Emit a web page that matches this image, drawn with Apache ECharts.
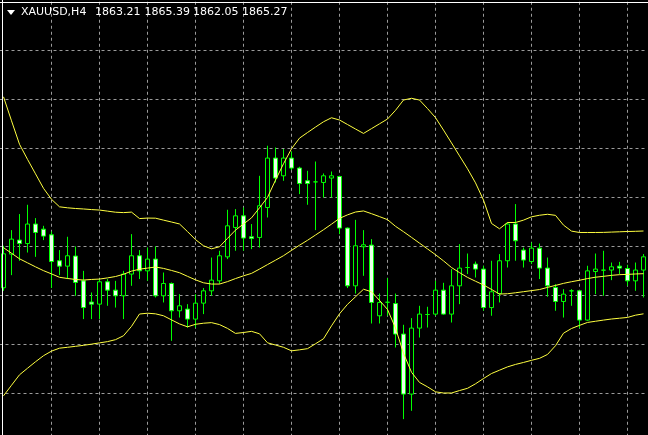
<!DOCTYPE html>
<html><head><meta charset="utf-8">
<script src="https://cdn.jsdelivr.net/npm/echarts@6/dist/echarts.min.js"></script>
<style>html,body{margin:0;padding:0;background:#000;}#c{width:648px;height:435px;}</style>
</head><body><div id="c"></div>
<script>
const symbolLabel = 'XAUUSD,H4';
const headerValues = ['1863.21', '1865.39', '1862.05', '1865.27'];

const opens = [1860.78,1864.22,1865.65,1865.30,1867.29,1866.77,1866.19,1863.54,1862.99,1864.02,
1861.49,1859.32,1859.11,1861.39,1860.54,1859.96,1862.18,1864.05,1862.51,1863.71,
1859.96,1861.22,1858.43,1858.60,1857.58,1859.21,1860.47,1861.49,1863.94,1866.94,
1868.13,1865.99,1865.92,1868.98,1874.03,1872.22,1874.03,1873.01,1871.71,1871.60,
1871.54,1871.99,1872.15,1866.88,1860.98,1864.97,1865.14,1857.92,1859.30,1859.17,
1856.05,1849.92,1856.66,1858.05,1858.09,1860.54,1858.09,1860.98,1862.85,1863.20,
1862.69,1858.76,1860.19,1863.54,1867.29,1864.63,1863.46,1864.83,1862.79,1860.81,
1859.38,1860.47,1860.47,1857.48,1862.44,1862.58,1862.59,1862.99,1862.75,1861.49,
1862.59];
const highs = [1865.07,1866.67,1868.31,1869.26,1867.90,1867.11,1866.53,1864.63,1865.99,1865.00,
1862.51,1860.30,1861.67,1861.67,1861.49,1862.51,1866.26,1864.63,1864.89,1865.00,
1862.34,1861.32,1860.13,1859.11,1860.13,1860.75,1863.87,1864.56,1868.75,1868.82,
1868.98,1867.29,1872.22,1875.29,1875.11,1874.95,1874.70,1873.14,1872.73,1873.68,
1872.46,1872.66,1872.20,1866.94,1867.72,1866.67,1865.75,1860.19,1861.77,1860.19,
1857.00,1857.68,1858.94,1858.84,1861.49,1861.29,1862.69,1865.24,1864.28,1863.46,
1863.03,1863.54,1864.22,1867.45,1869.33,1864.89,1865.41,1865.30,1863.87,1861.15,
1860.64,1860.64,1860.50,1863.03,1864.28,1864.56,1863.36,1863.43,1863.13,1863.36,
1864.22];
const lows = [1860.47,1862.07,1863.54,1864.38,1863.94,1865.65,1860.75,1862.07,1861.67,1859.96,
1857.58,1857.58,1857.58,1858.94,1858.76,1857.58,1860.98,1861.67,1861.49,1859.79,
1859.28,1855.36,1857.74,1856.72,1856.72,1858.09,1859.96,1861.19,1863.71,1864.56,
1864.56,1864.73,1864.89,1867.96,1871.54,1871.71,1872.80,1870.35,1869.26,1866.67,
1870.00,1870.00,1866.26,1860.75,1860.19,1862.00,1857.13,1857.13,1857.92,1854.68,
1847.36,1848.21,1855.70,1856.72,1857.92,1858.02,1857.23,1859.11,1862.18,1861.83,
1858.43,1857.92,1859.28,1862.85,1863.54,1862.85,1863.20,1861.67,1859.86,1858.43,
1857.74,1858.94,1856.66,1857.41,1860.13,1859.96,1861.56,1862.18,1860.98,1860.47,
1859.79];
const closes = [1864.25,1865.75,1865.30,1867.29,1866.43,1866.06,1863.46,1862.99,1864.05,1861.32,
1858.76,1859.11,1861.39,1860.54,1859.96,1862.18,1864.05,1862.51,1863.71,1859.96,
1861.22,1858.43,1858.94,1857.58,1859.21,1860.47,1861.56,1864.05,1867.11,1868.13,
1865.86,1865.81,1869.16,1874.03,1871.99,1874.03,1873.01,1871.43,1871.43,1871.60,
1872.22,1872.22,1866.88,1860.98,1865.07,1865.17,1859.28,1859.28,1859.30,1856.05,
1849.92,1856.66,1858.09,1858.05,1860.54,1858.09,1860.98,1862.79,1862.85,1862.69,
1858.76,1860.37,1863.54,1867.29,1865.58,1863.61,1864.83,1862.79,1860.98,1859.38,
1860.13,1860.47,1857.48,1862.51,1862.69,1862.58,1862.92,1862.79,1861.49,1862.59,
1863.94];

const bandUpper = [1880.29,1877.84,1875.44,1873.90,1872.42,1870.94,1869.82,1869.05,1868.95,1868.88,
1868.83,1868.77,1868.72,1868.61,1868.50,1868.46,1868.51,1867.85,1867.90,1867.89,
1867.69,1867.50,1867.30,1866.52,1865.70,1865.07,1864.76,1864.97,1865.83,1866.67,
1867.30,1867.92,1868.95,1870.01,1871.78,1873.45,1874.98,1876.07,1876.64,1877.20,
1877.74,1878.15,1877.92,1877.46,1877.00,1876.55,1877.04,1877.53,1878.02,1878.91,
1879.96,1880.14,1879.96,1879.09,1878.16,1876.89,1875.58,1874.26,1872.94,1871.50,
1869.74,1867.35,1866.81,1867.45,1867.45,1867.69,1868.03,1868.19,1868.29,1868.18,
1867.18,1866.57,1866.43,1866.43,1866.43,1866.44,1866.47,1866.50,1866.53,1866.55,
1866.58];
const bandMiddle = [1864.88,1864.31,1863.74,1863.33,1862.92,1862.53,1862.20,1861.85,1861.73,1861.63,
1861.57,1861.63,1861.67,1861.79,1861.93,1862.16,1862.48,1862.68,1862.79,1862.90,
1862.76,1862.55,1862.32,1861.95,1861.59,1861.29,1861.16,1861.16,1861.41,1861.72,
1862.00,1862.25,1862.69,1863.15,1863.60,1864.06,1864.60,1865.13,1865.63,1866.17,
1866.71,1867.28,1867.87,1868.23,1868.52,1868.63,1868.35,1868.05,1867.74,1867.06,
1866.51,1865.93,1865.34,1864.75,1864.16,1863.53,1862.85,1862.33,1861.84,1861.45,
1861.07,1860.61,1860.14,1860.17,1860.27,1860.38,1860.49,1860.60,1860.82,1861.02,
1861.23,1861.40,1861.55,1861.72,1861.86,1861.95,1862.05,1862.12,1862.15,1862.19,
1862.22];
const bandLower = [1849.74,1850.82,1851.89,1852.56,1853.22,1853.84,1854.31,1854.61,1854.70,1854.80,
1854.90,1855.02,1855.15,1855.28,1855.48,1855.88,1856.84,1858.10,1858.18,1858.12,
1857.92,1857.50,1857.09,1856.79,1857.05,1857.16,1857.22,1857.02,1856.63,1856.12,
1856.21,1856.33,1856.08,1855.16,1854.93,1854.70,1854.34,1854.44,1854.56,1855.06,
1855.57,1856.89,1858.12,1859.09,1859.86,1860.63,1860.37,1859.49,1858.57,1856.67,
1854.08,1852.15,1851.11,1850.66,1850.15,1850.03,1850.03,1850.28,1850.51,1850.97,
1851.51,1852.02,1852.36,1852.70,1852.95,1853.15,1853.37,1853.57,1853.97,1854.86,
1856.14,1856.62,1856.94,1857.24,1857.36,1857.48,1857.59,1857.67,1857.75,1857.98,
1858.12];

const categories = opens.map((_, i) => 'H4 #' + (i + 1));
const candleData = opens.map((o, i) => [o, closes[i], lows[i], highs[i]]);

const gridColor = '#9a9a9a';
const lime = '#00ff00';
const bandColor = '#ffff40';
const gridTop = 1.76, gridH = 440.48;

const chart = echarts.init(document.getElementById('c'), null, {renderer: 'canvas', width: 648, height: 435});
const hidden = {axisLine: {show: false}, axisTick: {show: false}, axisLabel: {show: false}};
const dashed = {show: true, lineStyle: {color: gridColor, type: [3, 3], width: 1}};

const headerTexts = [
  {t: symbolLabel, x: 21},
  {t: headerValues[0], x: 95},
  {t: headerValues[1], x: 144.5},
  {t: headerValues[2], x: 193},
  {t: headerValues[3], x: 242}
];

chart.setOption({
  backgroundColor: '#000000',
  animation: false,
  grid: [
    {left: -0.5, top: gridTop, width: 648, height: gridH, show: false, containLabel: false, outerBoundsMode: 'none'},
    {left: 51.5, top: gridTop, width: 624, height: gridH, show: false, containLabel: false, outerBoundsMode: 'none'}
  ],
  xAxis: [
    Object.assign({type: 'category', gridIndex: 0, data: categories, boundaryGap: true, splitLine: {show: false}}, hidden),
    Object.assign({type: 'value', gridIndex: 1, min: 6, max: 84, interval: 6, splitLine: dashed}, hidden)
  ],
  yAxis: [
    Object.assign({type: 'value', gridIndex: 0, min: 1845, max: 1890, interval: 5, splitLine: dashed}, hidden),
    Object.assign({type: 'value', gridIndex: 1, min: 0, max: 1, splitLine: {show: false}}, hidden)
  ],
  series: [
    {
      type: 'candlestick', xAxisIndex: 0, yAxisIndex: 0, data: candleData, barWidth: 4, z: 2,
      itemStyle: {color: '#000000', color0: '#eaffea', borderColor: lime, borderColor0: lime, borderColorDoji: lime, borderWidth: 1}
    },
    {type: 'line', xAxisIndex: 0, yAxisIndex: 0, data: bandUpper, showSymbol: false, symbol: 'none', z: 3, lineStyle: {color: bandColor, width: 1}},
    {type: 'line', xAxisIndex: 0, yAxisIndex: 0, data: bandMiddle, showSymbol: false, symbol: 'none', z: 3, lineStyle: {color: bandColor, width: 1}},
    {type: 'line', xAxisIndex: 0, yAxisIndex: 0, data: bandLower, showSymbol: false, symbol: 'none', z: 3, lineStyle: {color: bandColor, width: 1}}
  ],
  graphic: [
    {type: 'line', z: 100, shape: {x1: 0, y1: 2.5, x2: 648, y2: 2.5}, style: {stroke: '#ffffff', lineWidth: 1}},
    {type: 'line', z: 100, shape: {x1: 2.5, y1: 0, x2: 2.5, y2: 435}, style: {stroke: '#ffffff', lineWidth: 1}},
    {type: 'polygon', z: 100, shape: {points: [[7, 10], [15, 10], [11, 15]]}, style: {fill: '#ffffff'}}
  ].concat(headerTexts.map(h => ({
    type: 'text', z: 100, left: h.x, top: 7,
    style: {text: h.t, fill: '#ffffff', font: '11px "DejaVu Sans"'}
  })))
});
</script></body></html>
